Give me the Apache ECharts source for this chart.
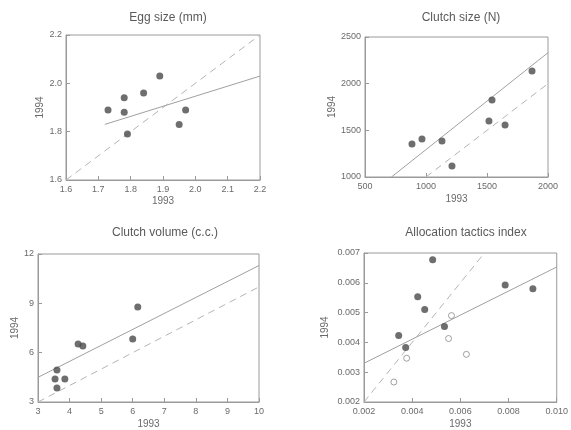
<!DOCTYPE html>
<html>
<head>
<meta charset="utf-8">
<script src="https://cdn.jsdelivr.net/npm/echarts@6/dist/echarts.min.js"></script>
<style>
  html, body { margin: 0; padding: 0; background: #fff; }
  #chart { width: 571px; height: 430px; }
</style>
</head>
<body>
<div id="chart"></div>
<script>
// --- data (1993 on x, 1994 on y) ---
var eggX = [1.73, 1.78, 1.78, 1.79, 1.84, 1.89, 1.95, 1.97];
var eggY = [1.89, 1.94, 1.88, 1.79, 1.96, 2.03, 1.83, 1.89];
var eggFit = [[1.72, 1.83], [2.20, 2.03]];
var eggDiag = [[1.60, 1.60], [2.20, 2.20]];

var clutchX = [885, 967, 1131, 1213, 1516, 1541, 1648, 1869];
var clutchY = [1354, 1407, 1386, 1118, 1600, 1825, 1557, 2136];
var clutchFit = [[717, 1000], [2000, 2332]];
var clutchDiag = [[1000, 1000], [2000, 2000]];

var volX = [3.60, 3.54, 3.85, 3.60, 4.27, 4.42, 6.00, 6.16];
var volY = [4.95, 4.40, 4.40, 3.85, 6.53, 6.41, 6.83, 8.78];
var volFit = [[3.0, 4.5], [10.0, 11.3]];
var volDiag = [[3, 3], [10, 10]];

var allocX = [0.00344, 0.00373, 0.00423, 0.00452, 0.00485, 0.00534, 0.00786, 0.00901];
var allocY = [0.00423, 0.00383, 0.00553, 0.00510, 0.00677, 0.00453, 0.00593, 0.00580];
var allocOpenX = [0.00324, 0.00377, 0.00551, 0.00563, 0.00625];
var allocOpenY = [0.00267, 0.00347, 0.00413, 0.00490, 0.00360];
var allocFit = [[0.002, 0.0033], [0.010, 0.00653]];
var allocDiag = [[0.002, 0.002], [0.007, 0.007]];

var titles = ['Egg size (mm)', 'Clutch size (N)', 'Clutch volume (c.c.)', 'Allocation tactics index'];

function pairs(xs, ys) {
    return xs.map(function (x, i) { return [x, ys[i]]; });
}

var textColor = '#6a6a6a';
var lineColor = '#9a9a9a';
var font = 'Liberation Sans, Arial, sans-serif';

var grids = [
    { left: 66, top: 35, width: 194, height: 145 },
    { left: 365, top: 37, width: 183, height: 140 },
    { left: 38, top: 254, width: 221, height: 148 },
    { left: 364, top: 253, width: 194, height: 150 }
];
grids.forEach(function (g) {
    g.show = true;
    g.borderColor = lineColor;
    g.borderWidth = 1;
    g.backgroundColor = 'transparent';
});

function axis(idx, min, max, interval, dec, name, gap, isY) {
    return {
        type: 'value',
        gridIndex: idx,
        min: min, max: max, interval: interval,
        name: name,
        nameLocation: 'middle',
        nameGap: gap,
        nameTextStyle: { color: textColor, fontSize: 10, fontFamily: font },
        axisLine: { show: true, lineStyle: { color: lineColor } },
        axisTick: { show: true, inside: true, length: 4, lineStyle: { color: lineColor } },
        axisLabel: {
            color: textColor, fontSize: 9, fontFamily: font, margin: isY ? 4 : 5,
            formatter: function (v) { return v.toFixed(dec); }
        },
        splitLine: { show: false }
    };
}

var xAxes = [
    axis(0, 1.6, 2.2, 0.1, 1, '1993', 16, false),
    axis(1, 500, 2000, 500, 0, '1993', 17, false),
    axis(2, 3, 10, 1, 0, '1993', 17, false),
    axis(3, 0.002, 0.010, 0.002, 3, '1993', 17, false)
];
var yAxes = [
    axis(0, 1.6, 2.2, 0.2, 1, '1994', 20, true),
    axis(1, 1000, 2500, 500, 0, '1994', 28, true),
    axis(2, 3, 12, 3, 0, '1994', 16, true),
    axis(3, 0.002, 0.007, 0.001, 3, '1994', 34, true)
];

function dots(idx, data) {
    return {
        type: 'scatter', xAxisIndex: idx, yAxisIndex: idx, data: data,
        symbolSize: 7, itemStyle: { color: '#4a4a4a' }, z: 5
    };
}
function openDots(idx, data) {
    return {
        type: 'scatter', xAxisIndex: idx, yAxisIndex: idx, data: data,
        symbolSize: 6, itemStyle: { color: '#fff', borderColor: '#8a8a8a', borderWidth: 1 }, z: 5
    };
}
// solid = fitted line, dashed = 1:1 line
function line(idx, data, dashed) {
    return {
        type: 'line', xAxisIndex: idx, yAxisIndex: idx, data: data,
        symbol: 'none', silent: true,
        lineStyle: { color: dashed ? '#b4b4b4' : '#a0a0a0', width: 1, type: dashed ? [7, 5] : 'solid' }
    };
}

var series = [
    line(0, eggDiag, true), line(0, eggFit, false), dots(0, pairs(eggX, eggY)),
    line(1, clutchDiag, true), line(1, clutchFit, false), dots(1, pairs(clutchX, clutchY)),
    line(2, volDiag, true), line(2, volFit, false), dots(2, pairs(volX, volY)),
    line(3, allocDiag, true), line(3, allocFit, false),
    openDots(3, pairs(allocOpenX, allocOpenY)), dots(3, pairs(allocX, allocY))
];

var titleBoxes = [
    { left: 163, top: 7 }, { left: 456, top: 7 },
    { left: 160, top: 222 }, { left: 461, top: 222 }
];

var myChart = echarts.init(document.getElementById('chart'), null, { renderer: 'canvas' });
myChart.setOption({
    backgroundColor: '#fff',
    animation: false,
    title: titles.map(function (t, i) {
        return {
            text: t, left: titleBoxes[i].left, top: titleBoxes[i].top, textAlign: 'center',
            textStyle: { color: '#5a5a5a', fontSize: 12, fontWeight: 'normal', fontFamily: font }
        };
    }),
    grid: grids,
    xAxis: xAxes,
    yAxis: yAxes,
    series: series
});
</script>
</body>
</html>
